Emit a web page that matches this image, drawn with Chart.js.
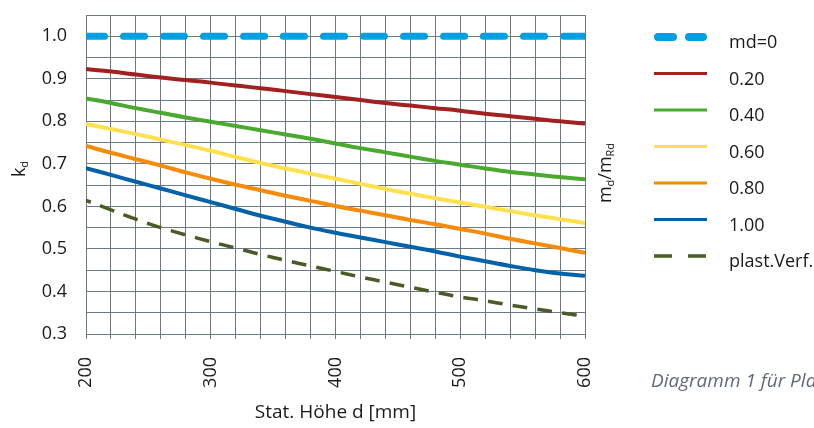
<!DOCTYPE html>
<html lang="de">
<head>
<meta charset="UTF-8">
<title>Beiwert kd</title>
<script src="https://cdn.jsdelivr.net/npm/chart.js"></script>
<style>
    html, body { margin: 0; padding: 0; background: #fff; overflow: hidden; }
    #wrap { position: relative; width: 814px; height: 428px; }
    #caption {
        position: absolute; left: 651px; top: 367px;
        font: italic 19px "Open Sans", sans-serif; color: #5f6b78;
        white-space: nowrap;
    }
</style>
</head>
<body>
<div id="wrap">
    <canvas id="kdChart" width="814" height="428"></canvas>
    <div id="caption">Diagramm 1 für Pla</div>
</div>

<script>
// statische Höhe d [mm]
const depths = [200, 220, 240, 260, 280, 300, 320, 340, 360, 380, 400,
                420, 440, 460, 480, 500, 520, 540, 560, 580, 600];

// kd je Verhältnis md/mRd
const kdMd000 = [1, 1, 1, 1, 1, 1, 1, 1, 1, 1, 1, 1, 1, 1, 1, 1, 1, 1, 1, 1, 1];
const kdMd020 = [0.923, 0.917, 0.910, 0.903, 0.897, 0.891, 0.884, 0.878, 0.871, 0.864, 0.857,
                 0.850, 0.843, 0.837, 0.831, 0.825, 0.818, 0.812, 0.806, 0.800, 0.795];
const kdMd040 = [0.854, 0.843, 0.831, 0.820, 0.809, 0.799, 0.789, 0.779, 0.769, 0.759, 0.748,
                 0.737, 0.727, 0.717, 0.707, 0.698, 0.689, 0.681, 0.675, 0.669, 0.664];
const kdMd060 = [0.794, 0.782, 0.770, 0.757, 0.744, 0.731, 0.716, 0.702, 0.689, 0.677, 0.665,
                 0.653, 0.641, 0.630, 0.619, 0.609, 0.599, 0.589, 0.579, 0.570, 0.561];
const kdMd080 = [0.742, 0.726, 0.711, 0.696, 0.680, 0.665, 0.651, 0.638, 0.625, 0.613, 0.601,
                 0.590, 0.579, 0.568, 0.558, 0.547, 0.536, 0.524, 0.513, 0.502, 0.491];
const kdMd100 = [0.690, 0.674, 0.658, 0.642, 0.626, 0.610, 0.594, 0.578, 0.564, 0.550, 0.538,
                 0.527, 0.516, 0.505, 0.494, 0.482, 0.471, 0.460, 0.450, 0.442, 0.437];
const kdPlast = [0.614, 0.592, 0.570, 0.550, 0.533, 0.517, 0.502, 0.487, 0.473, 0.460, 0.447,
                 0.434, 0.422, 0.410, 0.398, 0.387, 0.378, 0.368, 0.359, 0.350, 0.342];

const seriesLabels = ['md=0', '0.20', '0.40', '0.60', '0.80', '1.00', 'plast.Verf.'];
const seriesColors = ['#00a0e3', '#a0211f', '#4aa92f', '#ffe14f', '#f68b08', '#0062a8', '#4b5b26'];

const FONT = '"Open Sans", sans-serif';
const TEXT = '#1a1a1a';
const GRID = '#6e7986';

function toPoints(values) {
    return depths.map((d, i) => ({ x: d, y: values[i] }));
}

const datasets = [
    { data: toPoints(kdMd000), borderWidth: 7, borderDash: [21, 19], borderDashOffset: 2.5,
      borderCapStyle: 'round', legendDash: [15, 16], legendWidth: 8, legendCap: 'round' },
    { data: toPoints(kdMd020), borderWidth: 4 },
    { data: toPoints(kdMd040), borderWidth: 4 },
    { data: toPoints(kdMd060), borderWidth: 4 },
    { data: toPoints(kdMd080), borderWidth: 4 },
    { data: toPoints(kdMd100), borderWidth: 4 },
    { data: toPoints(kdPlast), borderWidth: 3.5, borderDash: [15, 10], borderDashOffset: 10,
      legendDash: [18, 16], legendWidth: 3.5 }
].map((ds, i) => Object.assign({
    label: seriesLabels[i],
    borderColor: seriesColors[i],
    backgroundColor: seriesColors[i],
    pointRadius: 0,
    tension: 0.4,
    fill: false
}, ds));
// md=0 obenauf zeichnen wie im Original
datasets[0].order = -1;

// Text mit Tiefstellung, um -90° gedreht
function drawRotated(ctx, parts, x, y, size, subSize) {
    ctx.save();
    ctx.translate(x, y);
    ctx.rotate(-Math.PI / 2);
    ctx.fillStyle = TEXT;
    ctx.textBaseline = 'alphabetic';
    ctx.textAlign = 'left';
    let total = 0;
    parts.forEach(p => {
        ctx.font = (p[1] ? subSize : size) + 'px ' + FONT;
        total += ctx.measureText(p[0]).width;
    });
    let cx = -total / 2;
    parts.forEach(p => {
        ctx.font = (p[1] ? subSize : size) + 'px ' + FONT;
        ctx.fillText(p[0], cx, p[1] ? 3 : 0);
        cx += ctx.measureText(p[0]).width;
    });
    ctx.restore();
}

const sideStuff = {
    id: 'sideStuff',
    afterDraw(chart) {
        const ctx = chart.ctx;
        // Achsentitel
        drawRotated(ctx, [['k', false], ['d', true]], 25, 169, 18, 11);
        drawRotated(ctx, [['m', false], ['d', true], ['/m', false], ['Rd', true]], 611, 173, 18, 11);

        // Legende
        const x0 = 654, x1 = 707, textX = 729, rowTop = 37, rowGap = 36.5;
        chart.data.datasets.forEach((ds, i) => {
            const y = rowTop + i * rowGap;
            ctx.save();
            ctx.strokeStyle = ds.borderColor;
            ctx.lineWidth = ds.legendWidth || 3;
            ctx.lineCap = ds.legendCap || 'butt';
            ctx.setLineDash(ds.legendDash || []);
            const inset = ds.legendCap === 'round' ? ctx.lineWidth / 2 : 0;
            ctx.beginPath();
            ctx.moveTo(x0 + inset, y);
            ctx.lineTo(x1 - inset, y);
            ctx.stroke();
            ctx.restore();

            ctx.save();
            ctx.fillStyle = TEXT;
            ctx.font = '18px ' + FONT;
            ctx.textBaseline = 'middle';
            ctx.textAlign = 'left';
            ctx.fillText(ds.label, textX, y + 6);
            ctx.restore();
        });
    }
};

const ctx = document.getElementById('kdChart').getContext('2d');
new Chart(ctx, {
    type: 'line',
    data: { datasets: datasets },
    options: {
        responsive: false,
        animation: false,
        layout: { padding: { left: 0, right: 229, top: 15, bottom: 0 } },
        plugins: {
            legend: { display: false },
            tooltip: { enabled: false }
        },
        scales: {
            x: {
                type: 'linear',
                min: 200,
                max: 600,
                afterFit: s => { s.height = 94; s.paddingLeft = 0; s.paddingRight = 0; },
                grid: { color: GRID, lineWidth: 1, tickLength: 5, drawTicks: true },
                border: { color: GRID },
                ticks: {
                    stepSize: 20,
                    autoSkip: false,
                    minRotation: 90,
                    maxRotation: 90,
                    padding: 18,
                    color: TEXT,
                    font: { family: FONT, size: 18 },
                    callback: v => (v % 100 === 0 ? String(v) : '')
                },
                title: {
                    display: true,
                    text: 'Stat. Höhe d [mm]',
                    color: TEXT,
                    font: { family: FONT, size: 19 },
                    padding: { top: 0, bottom: 4 }
                }
            },
            y: {
                min: 0.3,
                max: 1.05,
                afterFit: s => { s.width = 86; s.paddingTop = 0; s.paddingBottom = 0; },
                grid: { color: GRID, lineWidth: 1, drawTicks: false },
                border: { color: GRID },
                ticks: {
                    stepSize: 0.05,
                    autoSkip: false,
                    padding: 19,
                    color: TEXT,
                    font: { family: FONT, size: 18 },
                    callback: v => {
                        const k = Math.round(v * 100);
                        return (k % 10 === 0 && k <= 100) ? (k / 100).toFixed(1) : '';
                    }
                }
            }
        }
    },
    plugins: [sideStuff]
});
</script>
</body>
</html>
